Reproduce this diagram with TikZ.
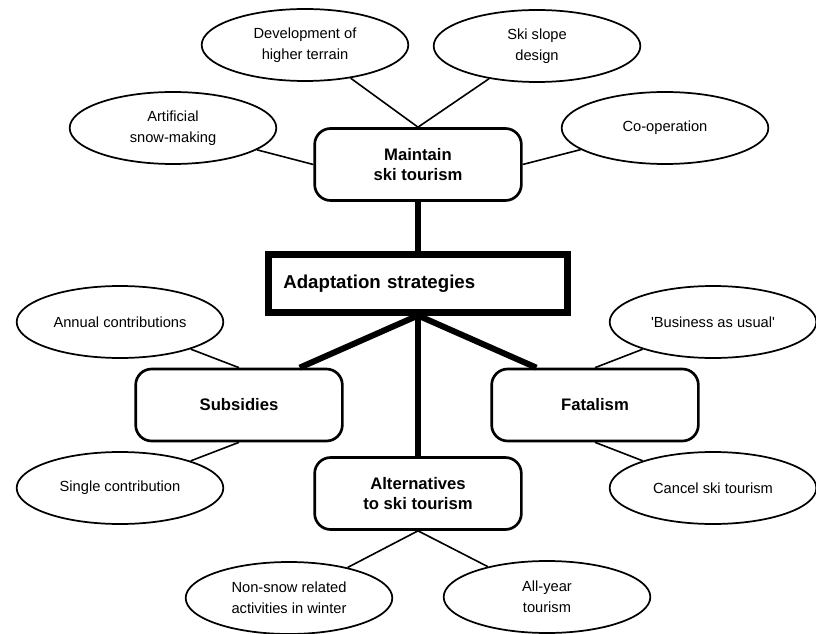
\documentclass[tikz,border=0pt]{standalone}
\usepackage{fontspec}
\setmainfont{Liberation Sans}
\usetikzlibrary{shapes.geometric,calc}

\begin{document}
\begin{tikzpicture}[
        x=0.75pt, y=-0.75pt,
        font=\fontsize{11}{16}\selectfont,
        idea/.style={draw, ellipse, line width=1.3pt, minimum width=155pt, minimum height=54pt, inner sep=0pt, align=center},
        branch/.style={draw, rounded corners=12pt, line width=2pt, minimum width=155pt, minimum height=54pt, align=center, font=\fontsize{12.5}{15}\selectfont\bfseries},
        core/.style={draw, line width=5pt, text width=202pt, inner xsep=11pt, minimum height=43pt, align=left, font=\fontsize{14}{17}\selectfont\bfseries},
        link/.style={line width=1.2pt},
        link2/.style={line width=4.5pt},
    ]
    \useasboundingbox (0,0) rectangle (816,634);

    \node[core] (adapt) at (418,283.5) {Adaptation strategies};
    \node[branch] (maint) at (418,164.5) {Maintain\\ski tourism};
    \node[branch] (subs) at (239,405) {Subsidies};
    \node[branch] (fatal) at (595,405) {Fatalism};
    \node[branch] (alter) at (418,493.5) {Alternatives\\to ski tourism};

    \node[idea] (devel) at (305,45) {Development of\\higher terrain};
    \node[idea] (slope) at (537,46) {Ski slope\\design};
    \node[idea] (snow) at (173,128) {Artificial\\snow-making};
    \node[idea] (coop) at (665,128) {Co-operation};
    \node[idea] (annual) at (120,322) {Annual contributions};
    \node[idea] (single) at (120,488) {Single contribution};
    \node[idea] (usual) at (713,322) {\textquotesingle Business as usual\textquotesingle};
    \node[idea] (cancel) at (713,488) {Cancel ski tourism};
    \node[idea] (nonsnow) at (289,598) {Non-snow related\\activities in winter};
    \node[idea] (allyear) at (547,597) {All-year\\tourism};

    \draw[link2] (maint.south) -- (adapt.north);
    \draw[link2] (adapt.south) -- ($(subs.north west)!0.79!(subs.north east)$);
    \draw[link2] (adapt.south) -- ($(fatal.north west)!0.22!(fatal.north east)$);
    \draw[link2] (adapt.south) -- (alter.north);

    \draw[link] (devel) -- (maint.north);
    \draw[link] (slope) -- (maint.north);
    \draw[link] (snow) -- (maint.west);
    \draw[link] (coop) -- (maint.east);

    \draw[link] (annual) -- (subs.north);
    \draw[link] (single) -- (subs.south);

    \draw[link] (usual) -- (fatal.north);
    \draw[link] (cancel) -- (fatal.south);

    \draw[link] (nonsnow) -- (alter.south);
    \draw[link] (allyear) -- (alter.south);
\end{tikzpicture}
\end{document}
